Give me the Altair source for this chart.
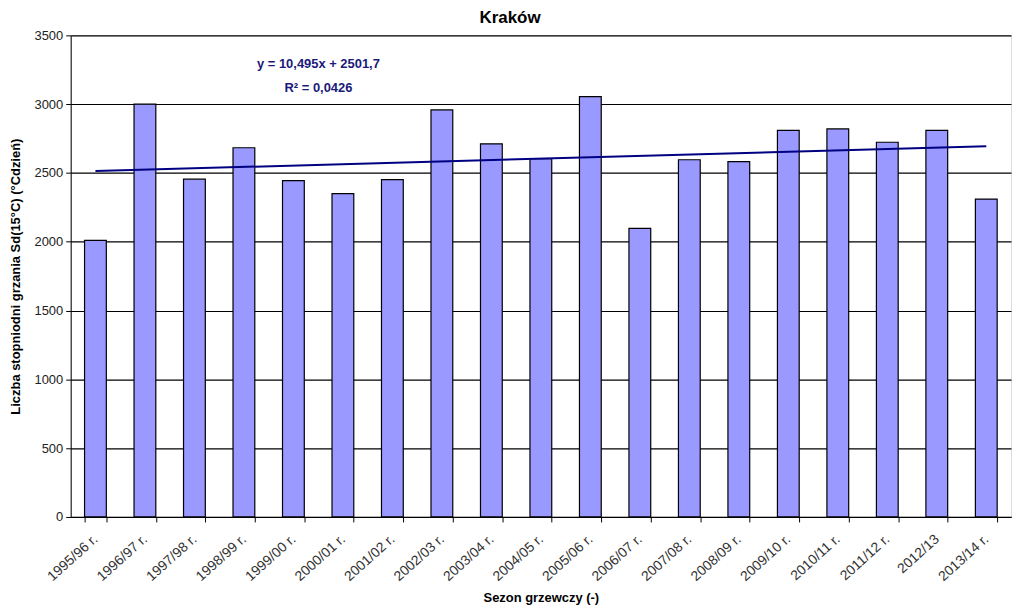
import altair as alt
import pandas as pd

seasons = ["1995/96 r.", "1996/97 r.", "1997/98 r.", "1998/99 r.", "1999/00 r.",
           "2000/01 r.", "2001/02 r.", "2002/03 r.", "2003/04 r.", "2004/05 r.",
           "2005/06 r.", "2006/07 r.", "2007/08 r.", "2008/09 r.", "2009/10 r.",
           "2010/11 r.", "2011/12 r.", "2012/13", "2013/14 r."]
values = [2010, 3000, 2455, 2683, 2444, 2350, 2451, 2958, 2712, 2603,
          3055, 2097, 2596, 2582, 2810, 2820, 2723, 2810, 2310]
y_ticks = [0, 500, 1000, 1500, 2000, 2500, 3000, 3500]
equation_lines = ["y = 10,495x + 2501,7", "R² = 0,0426"]

df = pd.DataFrame({"season": seasons, "value": values, "idx": list(range(1, len(seasons) + 1))})

FONT = "Liberation Sans"
ytitle = "Liczba stopniodni grzania Sd(15°C) (°Cdzień)"

bars = alt.Chart(df).mark_bar(color="#9999FF", stroke="black", strokeWidth=1.2).encode(
    x=alt.X("season:N", sort=seasons, title="Sezon grzewczy (-)",
            scale=alt.Scale(paddingInner=0.56, paddingOuter=0.28),
            axis=alt.Axis(labelAngle=318, labelAlign="right", labelBaseline="middle",
                          tickBand="extent", labelPadding=15, labelFontSize=14,
                          labelColor="#333333", titleFontWeight="bold", titleFontSize=13,
                          titlePadding=8, domainColor="black", tickColor="black",
                          tickSize=5, grid=False)),
    y=alt.Y("value:Q", title=ytitle,
            scale=alt.Scale(domain=[0, 3500]),
            axis=alt.Axis(values=y_ticks, format="d",
                          labelFontSize=13, labelColor="#222222", labelPadding=3,
                          titleFontWeight="bold", titleFontSize=13, titlePadding=12,
                          domainColor="black", tickColor="black", tickSize=5,
                          grid=True, gridColor="black", gridWidth=1.2, gridOpacity=1)),
)

trend = alt.Chart(df).transform_regression("idx", "value", method="linear").mark_line(
    color="#000080", strokeWidth=2
).encode(
    x=alt.X("idx:Q", scale=alt.Scale(domain=[0.5, len(seasons) + 0.5], nice=False, zero=False),
            axis=None),
    y=alt.Y("value:Q", scale=alt.Scale(domain=[0, 3500])),
)

eq1 = alt.Chart(pd.DataFrame({"line": [equation_lines[0]]})).mark_text(
    color="#1a1a7a", fontWeight="bold", fontSize=13, font=FONT
).encode(text="line:N", x=alt.value(249), y=alt.value(29))
eq2 = alt.Chart(pd.DataFrame({"line": [equation_lines[1]]})).mark_text(
    color="#1a1a7a", fontWeight="bold", fontSize=13, font=FONT
).encode(text="line:N", x=alt.value(249), y=alt.value(53))

chart = alt.layer(bars, trend, eq1, eq2).resolve_scale(x="independent").properties(
    width=945, height=484,
    title=alt.TitleParams("Kraków", fontSize=17, fontWeight="bold", font=FONT, offset=2,
                          frame="bounds"),
).configure_view(
    fill="#C0C0C0", stroke="#808080", strokeWidth=1.5
).configure_axis(
    labelFont=FONT, titleFont=FONT, titleColor="black"
).configure(
    background="white"
).properties(padding={"left": 1, "top": 0, "right": 5, "bottom": 0})

chart.save("out.html", embed_options={"renderer": "svg", "actions": False})
